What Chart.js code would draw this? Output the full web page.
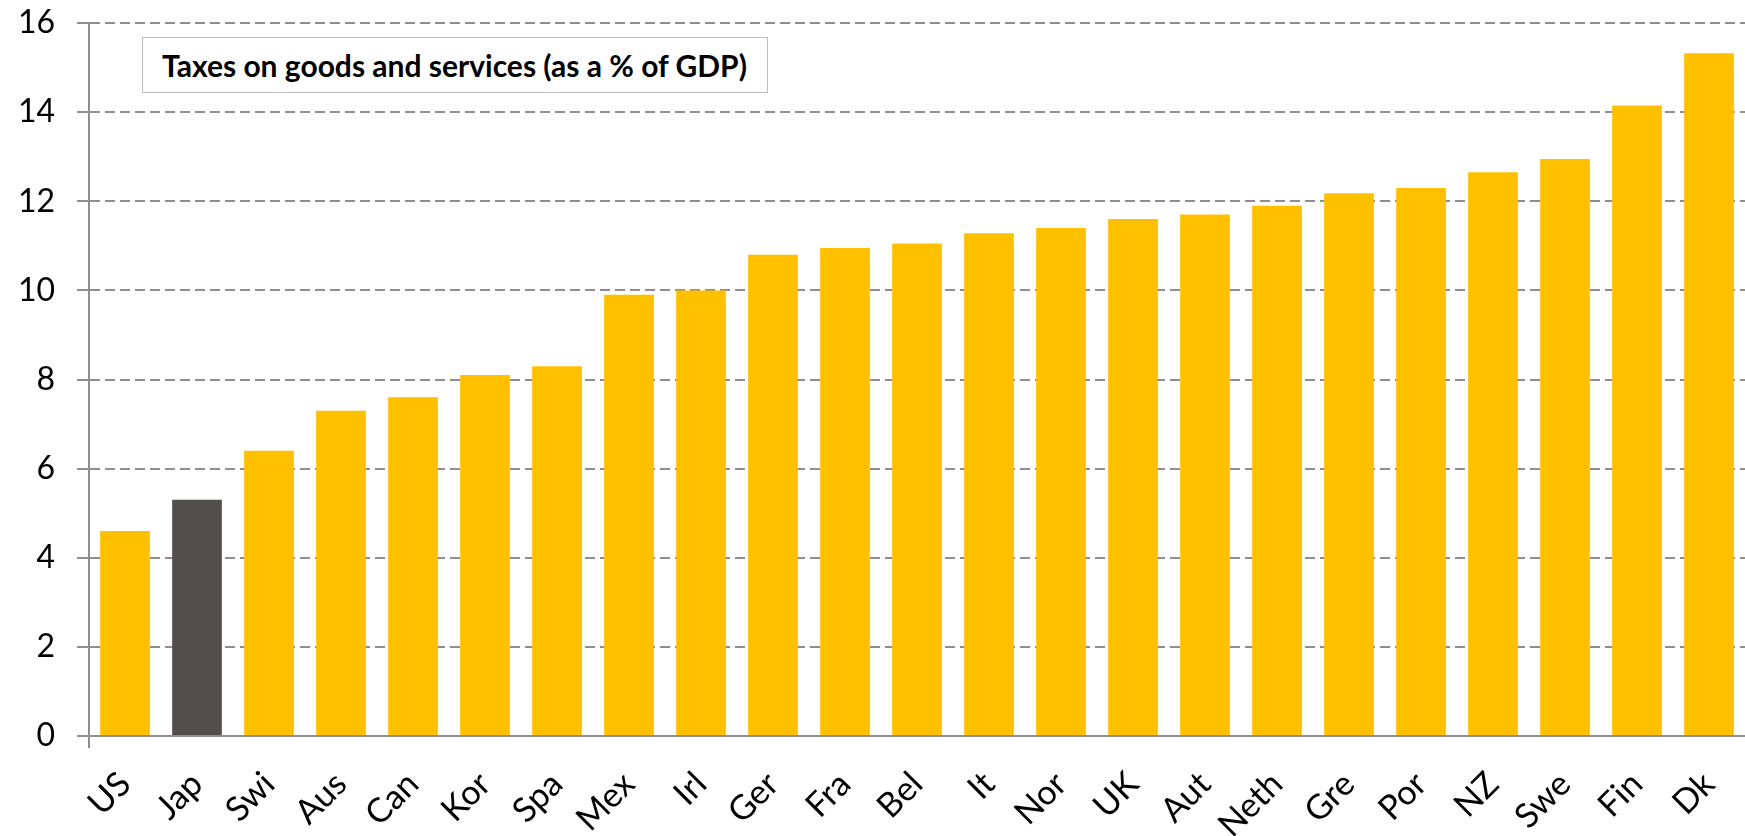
<!DOCTYPE html>
<html>
<head>
<meta charset="utf-8">
<title>Taxes on goods and services</title>
<script src="https://cdn.jsdelivr.net/npm/chart.js@4.4.0/dist/chart.umd.min.js"></script>
<style>
  html, body { margin: 0; padding: 0; background: #fff; }
  #wrap { position: relative; width: 1745px; height: 836px; }
  #cv { display: block; }
  #title-box {
    position: absolute; left: 142px; top: 37px; width: 626px; height: 56px;
    box-sizing: border-box; border: 1px solid #bfbfbf; background: #fff;
    font: bold 30px Lato, sans-serif; color: #000;
    display: flex; align-items: center; padding-left: 19px;
  }
</style>
</head>
<body>
<div id="wrap">
  <canvas id="cv" width="1745" height="836"></canvas>
  <div id="title-box">Taxes on goods and services (as a % of GDP)</div>
</div>
<script>
// Taxes on goods and services, % of GDP
const countries = ['US', 'Jap', 'Swi', 'Aus', 'Can', 'Kor', 'Spa', 'Mex', 'Irl', 'Ger', 'Fra', 'Bel',
  'It', 'Nor', 'UK', 'Aut', 'Neth', 'Gre', 'Por', 'NZ', 'Swe', 'Fin', 'Dk'];
const taxShare = [4.6, 5.3, 6.4, 7.3, 7.6, 8.1, 8.3, 9.9, 10.0, 10.8, 10.95, 11.05,
  11.28, 11.4, 11.6, 11.7, 11.9, 12.18, 12.3, 12.65, 12.95, 14.15, 15.32];
const highlighted = 'Jap';
const yTicks = [0, 2, 4, 6, 8, 10, 12, 14, 16];

const YELLOW = '#FFC000';
const DARK = '#524E4D';
const GRID = '#8f8f8f';
const FONT = 'Lato, sans-serif';

const barColors = countries.map(c => c === highlighted ? DARK : YELLOW);

// keep the plot box where the reference has it: no extra room for edge labels
function noEdgePadding(s) {
  s.paddingTop = 0; s.paddingBottom = 0; s.paddingLeft = 0; s.paddingRight = 0;
}

new Chart(document.getElementById('cv'), {
  type: 'bar',
  data: {
    labels: countries,
    datasets: [{
      data: taxShare,
      backgroundColor: barColors,
      borderWidth: 0,
      barPercentage: 0.69,
      categoryPercentage: 1,
    }],
  },
  options: {
    responsive: false,
    animation: false,
    devicePixelRatio: 1,
    layout: { padding: { top: 23, right: 0, bottom: 0, left: 0 } },
    plugins: { legend: { display: false }, tooltip: { enabled: false } },
    scales: {
      x: {
        offset: true,
        grid: {
          display: true, drawOnChartArea: false, drawTicks: true, tickLength: 12,
          offset: true, lineWidth: 2,
          color: ctx => ctx.index === 0 ? GRID : 'rgba(0,0,0,0)',
        },
        border: { display: true, color: GRID, width: 2 },
        ticks: {
          color: '#000', font: { family: FONT, size: 34 }, padding: 16,
          minRotation: 45, maxRotation: 45, autoSkip: false,
        },
        afterFit: s => { s.height = 100; noEdgePadding(s); },
      },
      y: {
        min: 0, max: 16,
        afterBuildTicks: s => { s.ticks = yTicks.map(v => ({ value: v })); },
        grid: {
          color: GRID, lineWidth: 2, drawTicks: true, tickLength: 12,
          tickColor: GRID, tickWidth: 2, tickBorderDash: [],
        },
        border: { display: true, color: GRID, width: 2, dash: [10, 5] },
        ticks: { color: '#000', font: { family: FONT, size: 32 }, padding: 22 },
        afterFit: s => { s.width = 89; noEdgePadding(s); },
      },
    },
  },
});
</script>
</body>
</html>
